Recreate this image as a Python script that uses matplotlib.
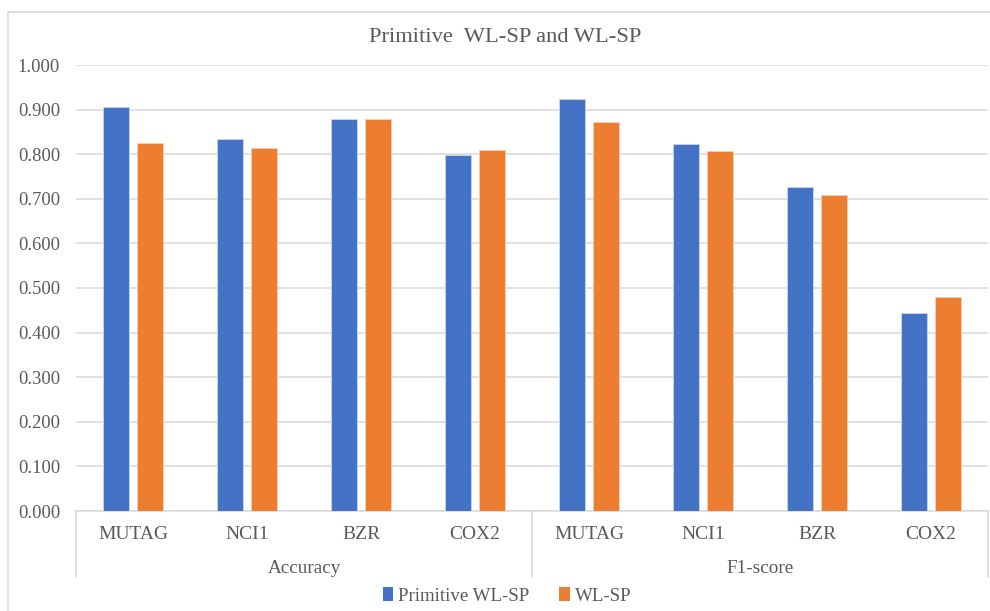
#!/usr/bin/env python3

# wlsp_bars.py - Primitive WL-SP vs WL-SP, accuracy and F1 per dataset

import matplotlib
matplotlib.use("Agg")
import matplotlib.pyplot as plt
import numpy as np
from matplotlib.patches import Patch, Rectangle
from matplotlib.ticker import FormatStrFormatter
from matplotlib.transforms import blended_transform_factory

DATASETS = ["MUTAG", "NCI1", "BZR", "COX2"]
METRICS = ["Accuracy", "F1-score"]
SERIES = ["Primitive WL-SP", "WL-SP"]

primitive_accuracy = [0.905, 0.833, 0.878, 0.799]
primitive_f1 = [0.924, 0.823, 0.726, 0.445]
wlsp_accuracy = [0.825, 0.813, 0.878, 0.809]
wlsp_f1 = [0.873, 0.807, 0.708, 0.479]

BLUE = "#4472C4"
ORANGE = "#ED7D31"
GRID = "#D9D9D9"
TEXT = "#595959"


def main() -> None:
    plt.rcParams["font.family"] = ["Liberation Serif", "DejaVu Serif"]

    fig = plt.figure(figsize=(9.9, 6.11), dpi=100, facecolor="white")
    ax = fig.add_axes([76 / 990, 1 - 511 / 611, 912 / 990, 446 / 611])

    # Light frame round the whole chart
    fig.patches.append(
        Rectangle((8 / 990, -0.05), 1.1, 1 - 12 / 611 + 0.05, transform=fig.transFigure,
                  fill=False, edgecolor=GRID, linewidth=1.2)
    )

    primitive = primitive_accuracy + primitive_f1
    wlsp = wlsp_accuracy + wlsp_f1
    x = np.arange(len(primitive)) + 0.5
    width = 0.228
    offset = 0.145

    ax.bar(x - offset, primitive, width, color=BLUE, edgecolor="#C9D6EE", linewidth=0.6, zorder=3)
    ax.bar(x + offset, wlsp, width, color=ORANGE, edgecolor="#F7CDB0", linewidth=0.6, zorder=3)

    # Y-axis settings
    ax.set_ylim(0, 1.0)
    ax.set_yticks(np.arange(0, 1.01, 0.1))
    ax.yaxis.set_major_formatter(FormatStrFormatter("%.3f"))
    ax.tick_params(axis="y", length=0, pad=11.5, labelsize=13.3, labelcolor=TEXT)
    ax.grid(axis="y", color=GRID, linewidth=1.1, zorder=0)

    # X-axis settings: dataset names, then the metric row below
    ax.set_xlim(0, len(primitive))
    ax.set_xticks(x)
    ax.set_xticklabels(DATASETS * len(METRICS))
    ax.tick_params(axis="x", length=0, pad=10.5, labelsize=14, labelcolor=TEXT)

    for side in ["top", "right", "left"]:
        ax.spines[side].set_visible(False)
    ax.spines["bottom"].set_color(GRID)
    ax.spines["bottom"].set_linewidth(1.1)

    trans = blended_transform_factory(ax.transData, ax.transAxes)
    n = len(DATASETS)
    for i, metric in enumerate(METRICS):
        ax.text(i * n + n / 2, -0.128, metric, transform=trans, ha="center", va="center",
                fontsize=13.8, color=TEXT)
    for edge in range(len(METRICS) + 1):
        ax.plot([edge * n, edge * n], [0, -0.148], transform=trans, color=GRID,
                linewidth=1.1, clip_on=False)

    fig.text(505 / 990, 1 - 37 / 611, "Primitive  WL-SP and WL-SP", ha="center", va="center",
             fontsize=16.2, color=TEXT)

    handles = [Patch(facecolor=c) for c in (BLUE, ORANGE)]
    fig.legend(handles, SERIES, loc="center", bbox_to_anchor=(507 / 990, 1 - 596 / 611), ncol=2,
               frameon=False, fontsize=13.6, labelcolor=TEXT, handlelength=0.55, handleheight=0.7,
               handletextpad=0.25, columnspacing=1.6)

    fig.savefig("out.png", dpi=100, facecolor="white")


if __name__ == "__main__":
    main()
